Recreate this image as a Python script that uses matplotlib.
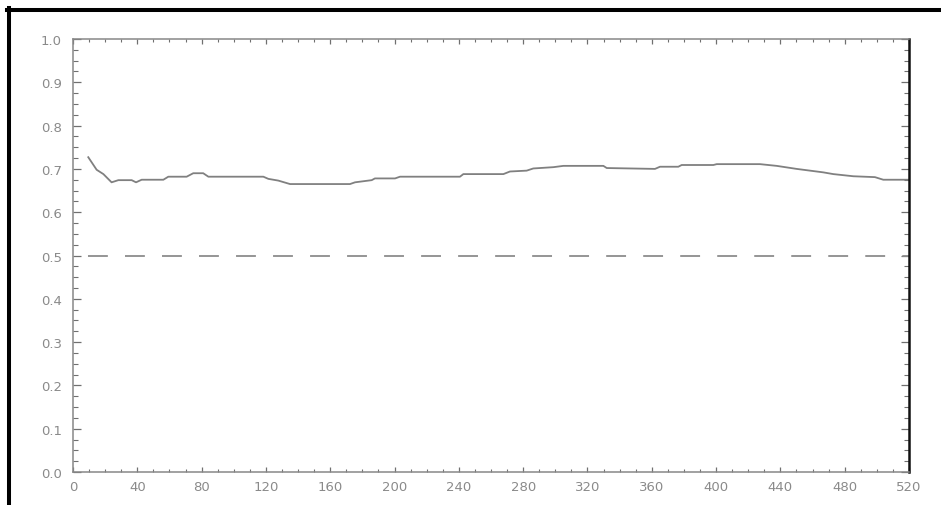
import numpy as np
import matplotlib
matplotlib.use('Agg')
import matplotlib.pyplot as plt
from matplotlib.lines import Line2D
from matplotlib.ticker import MultipleLocator

# curve
x_vals = [9.5, 14.7, 18.9, 24.0, 28.2, 36.5, 39.2, 42.7, 56.2, 59.3, 70.7, 74.8,
          81.0, 84.2, 118.4, 121.5, 127.7, 135.0, 172.3, 175.4, 185.8, 187.8,
          200.3, 203.4, 240.7, 242.8, 267.7, 271.8, 282.2, 286.3, 298.8, 305.0,
          329.9, 332.0, 362.0, 365.1, 376.5, 378.6, 398.3, 400.4, 427.3, 437.7,
          450.1, 466.7, 472.9, 485.4, 498.8, 504.0, 520.0]
y_vals = [0.727, 0.698, 0.688, 0.669, 0.674, 0.674, 0.669, 0.675, 0.675, 0.682,
          0.682, 0.690, 0.690, 0.682, 0.682, 0.677, 0.673, 0.665, 0.665, 0.669,
          0.674, 0.678, 0.678, 0.682, 0.682, 0.688, 0.688, 0.694, 0.696, 0.701,
          0.704, 0.707, 0.707, 0.702, 0.700, 0.705, 0.705, 0.709, 0.709, 0.711,
          0.711, 0.707, 0.700, 0.692, 0.688, 0.683, 0.681, 0.675, 0.675]
ref_level = 0.5

x_ticks = list(range(0, 521, 40))
y_ticks = [0.0, 0.1, 0.2, 0.3, 0.4, 0.5, 0.6, 0.7, 0.8, 0.9, 1.0]

W, H = 941, 506
fig = plt.figure(figsize=(W / 100, H / 100), dpi=100)
ax = fig.add_axes([73 / W, 1 - 473 / H, (909 - 73) / W, (473 - 40) / H])

grey = '#888888'
ax.plot(x_vals, y_vals, color='#808080', lw=1.3)
# dash ~20px, gap ~17px, first dash starting a bit right of the axis
ax.axhline(ref_level, color='#8c8c8c', lw=1.3, linestyle=(12.2, (11.0, 9.5)))

ax.set_xlim(0, 520)
ax.set_ylim(0, 1.0)
ax.set_xticks(x_ticks)
ax.set_yticks(y_ticks)
ax.set_yticklabels(['%.1f' % v for v in y_ticks])
ax.xaxis.set_minor_locator(MultipleLocator(10))
ax.yaxis.set_minor_locator(MultipleLocator(0.025))

ax.tick_params(axis='both', which='both', direction='in', top=True, right=True,
               colors='#707070', labelcolor='#8a8a8a', labelsize=9.5)
ax.tick_params(axis='x', which='major', length=3.5, width=0.9, pad=6)
ax.tick_params(axis='x', which='minor', length=2, width=0.8)
ax.tick_params(axis='y', which='major', length=5.5, width=0.9, pad=8)
ax.tick_params(axis='y', which='minor', length=3.5, width=0.8)

for side in ['left', 'bottom', 'top']:
    ax.spines[side].set_color(grey)
    ax.spines[side].set_linewidth(1.1)
ax.spines['right'].set_color('#111111')
ax.spines['right'].set_linewidth(1.8)

# thick frame on the top and left edge of the picture
fig.add_artist(Line2D([7.3 / W, 1.0], [1 - 11.3 / H, 1 - 11.3 / H],
                      transform=fig.transFigure, color='black', lw=2.9))
fig.add_artist(Line2D([9.3 / W, 9.3 / W], [1 - 9.3 / H, 0.0],
                      transform=fig.transFigure, color='black', lw=2.9))

fig.savefig('out.png', dpi=100)
